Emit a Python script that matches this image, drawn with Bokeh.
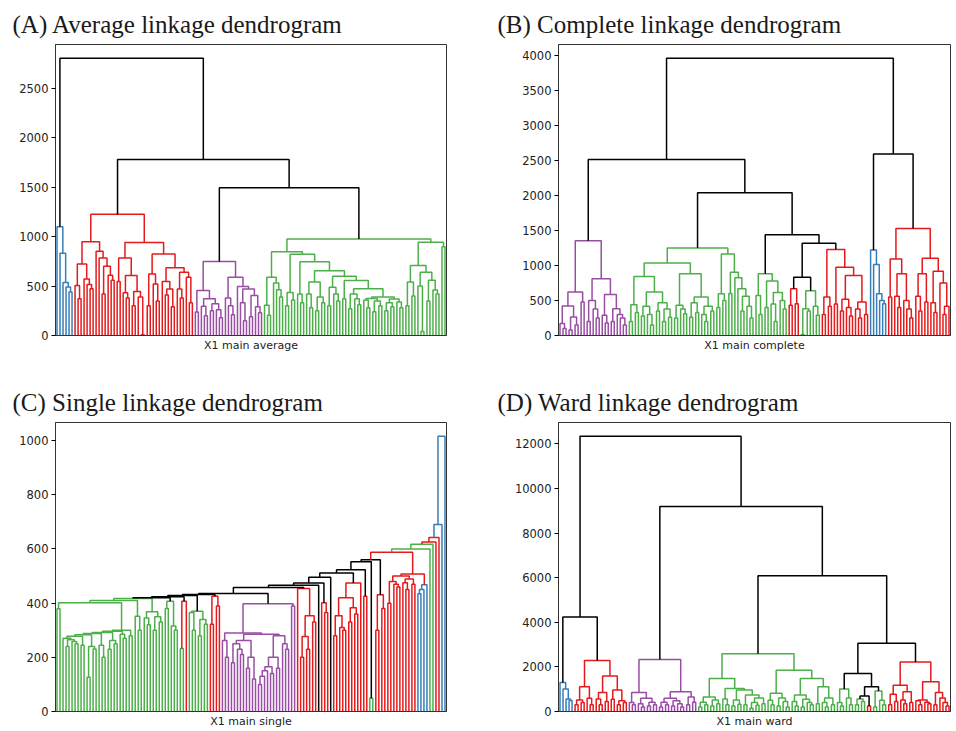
from bokeh.plotting import figure
from bokeh.layouts import column, row
from bokeh.models import ColumnDataSource, Range1d, FixedTicker
from bokeh.embed import file_html
from bokeh.resources import INLINE

# ---------------- colours of the links ----------------
COLORS = {"k": "#000000", "b": "#377eb8", "r": "#e41a1c", "g": "#4daf4a", "p": "#984ea3"}


def J(a, b, h, c=""):
    """join two subtrees at merge height h (optional colour code)"""
    return f"({a},{b}){h}{c}"


def chain(first, steps):
    acc = first
    for sub, h, c in steps:
        acc = J(acc, sub, h, c)
    return acc

# ---------------- (A) average linkage ----------------
A_blue = "(.,(.,(.,(.,(.,.)440)490)536)832)1100b"
A_red_LL = "((.,(.,.)372)505,(.,(.,(.,.)472)516)572)724"
A_red_LR = "(.,(.,((.,.)420,(.,(.,.)560)610)700)785)851"
A_red_RL = "((.,.)545,((.,(.,.)380)432,((.,.)300,(.,(.,.)8)390)445)606)785"
A_red_RR = "(((.,.)300,(.,(.,.)350)520)623,((.,((.,.)410,(.,.)290)470)545,((.,(.,.)380)470,(.,(.,.)330)590)640)684)824"
A_pur_L = "((.,.)238,((.,(.,.)200)295,((.,.)250,(.,(.,.)180)260)322)372)456"
A_pur_R1 = "(.,(.,(.,.)210)300)380"
A_pur_R2 = "(.,(.,.)150)330"
A_pur_R3 = "((.,.)190,(.,(.,.)230)290)405"
A_G1a = "((.,(.,.)204)305,(.,(.,(.,.)389)463)530)589"
A_G1b_left = "((.,.)300,(.,.)360)435"
A_X = ["(.,(.,.)330)420",
       "((.,(.,.)280)420,((.,.)250,(.,.)330)390)540",
       "((.,.)300,(.,(.,.)350)420)489",
       "(.,.)372",
       "((.,.)270,(.,(.,.)310)372)420",
       "((.,(.,.)280)360,((.,.)240,(.,.)300)350)375",
       "(((.,.)250,(.,.)290)330,(.,(.,.)280)340)370"]
A_chain_h = [747, 656, 600, 556, 472, 389]
A_G2a = "(((.,.)300,(.,.)400)540,((.,(.,.)40)500,((.,.)350,(.,(.,.)420)460)560)640)707"
A_G2b = "(.,.)898"

# ---------------- (B) complete linkage ----------------
B_pur_L = "(((.,(.,.)100)171,((.,.)80,(.,.)150)265)422,(.,.)479)621"
B_pur_R = ["((.,.)200,(.,(.,.)250)380)502", "(.,(.,.)180)289", "((.,.)200,(.,(.,(.,.)150)250)300)384"]
B_G1La = ["((.,.)200,(.,.)330)441", "((.,.)280,(.,(.,.)150)300)420", "((.,.)350,((.,.)200,(.,.)260)380)470"]
B_G1Lb = ["((.,.)250,(.,(.,.)310)380)431", "((.,.)260,(.,.)330)470", "((.,(.,.)200)300,(.,.)350)420"]
B_G1Ra = "((.,.)400,(.,.)500)597"
B_G1Rb = "((.,.)600,(.,(.,((.,.)350,(.,(.,.)250)420)560)668)825)905"
B_green2 = "((.,(.,.)300)573,((.,.)400,((.,(.,.)200)450,(.,(.,.)380)500)615)780)882g"
B_red1 = "((.,.)431,(.,.)455)668r"
B_green3 = "(((.,.)15,(.,.)350)384,(.,(.,.)290)420)640g"
B_red2 = ["((.,.)300,(.,.)420)550", "(.,.)450", "((.,.)350,(.,(.,.)280)400)520", "((.,(.,.)250)380,(.,.)300)480"]
B_blue = "(.,(.,(.,(.,(.,.)455)502)597)1014)1223b"
B_red3L = "((.,.)550,((.,(.,.)400)560,(.,(.,(.,.)250)380)500)882)1095"
B_red3R = "(((.,(.,.)350)560,(.,.)480)882,((.,(.,.)330)470,(.,((.,.)300,.)420)749)920)1104"

# ---------------- (C) single linkage ----------------
C_Q1_first = "."
C_Q1_steps = [("((.,.)240,(.,(.,.)250)258)265", 270, ""), ("(.,.)245", 278, ""),
              ("((.,.)126,(.,.)231)240", 283, ""), ("(.,(.,.)200)245", 288, ""),
              ("((.,.)230,(.,.)250)262", 292, ""), ("(.,(.,.)270)285", 296, ""),
              ("(.,.)280", 300, "")]
C_PA1 = "(.,(.,.)200)262"
C_PAa = ["((.,.)180,(.,(.,.)210)230)250", "((.,.)160,(.,.)120)200"]
C_PA_chain_first = "(.,.)100"
C_PA_chain = [(".", 130, ""), (".", 150, ""), ("(.,.)140", 165, ""), ("(.,.)160", 200, ""),
              ("(.,(.,.)230)250", 280, "")]
C_Q17_red = "(((.,.)400,(.,(.,.)460)470)480,((.,(.,.)450)475,(.,.)470)489)500r"
C_Q17_blue = "(((.,.)435,.)450,.)468b"
C_first = "(.,.)379g"
C_right = [("(.,(.,.)300)352", 410, "g"),
           ("((.,(.,.)320)345,((.,.)300,(.,.)330)350)368", 417, "g"),
           ("((.,.)380,(.,(.,.)300)316)407g", 420, "k"),
           ("((.,.)233g,.)407r", 424, "k"),
           ("((.,(.,.)300)365,((.,.)280,(.,.)322)340)370g", 428, "k"),
           ("((.,.)322,(.,.)389)425r", 432, "k")]
C_after_purple = [("(.,(((.,.)200,(.,.)230)277,(.,.)330)353)454r", 458, "k"),
                  (".", 466, "k"),
                  ("(.,(.,.)365)401r", 474, "k"),
                  (".", 496, "k"),
                  ("((((.,.)280,(.,(.,.)300)310)353,((.,.)330,(.,.)360)383)420,.)474r", 511, "k"),
                  ("(.,.)425r", 523, "k"),
                  ("(.,.)49g", 553, "k"),
                  ("((.,.)300,(.,.)380)431r", 560, "k")]
C_tail = [(".", 600, "g"), (".", 617, "g"), (".", 626, "r"), (".", 642, "r"), (".", 690, "b"), (".", 1016, "b")]

# ---------------- (D) ward linkage ----------------
D_blue = "(.,(.,(.,(.,.)488)562)1005)1300b"
D_red = ["((.,.)300,(.,.)400)517", "(.,(.,.)300)591", "((.,(.,.)300)560,(.,.)450)857", "((.,.)550,((.,.)300,(.,.)400)480)960"]
D_pur = ["(.,(.,.)300)400", "((.,(.,.)200)350,((.,.)250,(.,.)300)420)591",
         "(((.,.)200,(.,.)300)420,((.,.)250,(.,(.,.)200)350)480)591", "((.,.)300,(.,.)420)650"]
D_GLa = "(((.,.)200,(.,.)300)420,((.,.)250,(.,.)350)517)650"
D_GLb1 = "(.,(.,.)300)560"
D_GLb2 = "(((.,.)250,(.,.)320)520,((.,.)300,(((.,.)150,(.,.)280)400,(.,.)350)600)739)960"
D_GRa = "((.,(.,.)300)500,((.,.)250,(.,(.,.)200)450)600)813"
D_GRb1 = "((.,(.,.)250)450,((.,.)200,(.,(.,.)300)400)550)739"
D_GRb2 = "((.,.)350,((.,(.,.)200)400,(.,.)300)600)1108"
D_greenA = "((.,(.,.)250)400,(.,(.,.)300)600)1005g"
D_greenC = "((.,.)300,(.,.)450)560g"
D_redS = "(.,.)250r"
D_greenB = "((.,.)200,(.,(.,.)300)500)916g"
D_redR = ["(((.,.)300,(.,.)450)768,((.,(.,.)350)520,(.,.)400)887)1182",
          "((.,(.,.)300)480,(.,(.,.)350)420)517", "((.,.)300,(.,(.,(.,.)250)400)600)857"]

# ---------------- axis ticks, titles ----------------
TICKS_A = [0, 500, 1000, 1500, 2000, 2500]
TICKS_B = [0, 500, 1000, 1500, 2000, 2500, 3000, 3500, 4000]
TICKS_C = [0, 200, 400, 600, 800, 1000]
TICKS_D = [0, 2000, 4000, 6000, 8000, 10000, 12000]
TITLES = ["(A) Average linkage dendrogram", "(B) Complete linkage dendrogram",
          "(C) Single linkage dendrogram", "(D) Ward linkage dendrogram"]
XLABELS = ["X1 main average", "X1 main complete", "X1 main single", "X1 main ward"]

# ---------------- assemble trees ----------------
A_red = J(J(A_red_LL, A_red_LR, 948), J(A_red_RL, A_red_RR, 940), 1227, "r")
A_purple = J(A_pur_L, J(A_pur_R1, J(".", J(A_pur_R2, A_pur_R3, 470), 496), 590), 748, "p")
c = J(A_X[5], A_X[6], A_chain_h[5])
for xi, hh in zip(A_X[4::-1][:4], A_chain_h[4:0:-1]):
    c = J(xi, c, hh)
c = J(A_X[0], c, A_chain_h[0])
A_green = J(J(A_G1a, J(A_G1b_left, c, 822), 848), J(A_G2a, A_G2b, 942), 975, "g")
A_tree = J(A_blue, J(A_red, J(A_purple, A_green, 1495), 1780), 2803, "k")

B_purple = J(B_pur_L, J(B_pur_R[0], J(B_pur_R[1], B_pur_R[2], 588), 810), 1356, "p")
B_G1L = J(J(B_G1La[0], J(B_G1La[1], B_G1La[2], 621), 844), J(B_G1Lb[0], J(B_G1Lb[1], B_G1Lb[2], 550), 882), 1038)
B_green1 = J(B_G1L, J(B_G1Ra, B_G1Rb, 1166), 1251, "g")
B_red2t = J(B_red2[0], J(B_red2[1], J(B_red2[2], B_red2[3], 858), 976), 1228, "r")
B_red3 = J(B_red3L, B_red3R, 1531, "r")
B_tree = J(J(B_purple, J(B_green1, J(B_green2, J(J(B_red1, B_green3, 834), B_red2t, 1318), 1441), 2043), 2517),
           J(B_blue, B_red3, 2597), 3963, "k")

C_Q1 = chain(C_Q1_first, C_Q1_steps)
C_PA2 = J(J(C_PAa[0], C_PAa[1], 262), chain(C_PA_chain_first, C_PA_chain), 285)
C_Q7 = J(J(C_PA1, C_PA2, 290), "(.,.)389", 398, "p")
C_Q17 = J(C_Q17_red, C_Q17_blue, 508, "r")
C_steps = [(C_Q1, 401, "g")] + C_right + [(C_Q7, 436, "k")] + C_after_purple + [(C_Q17, 588, "r")] + C_tail
C_tree = chain(C_first, C_steps)

D_redL = J(J(D_red[0], D_red[1], 1108), J(D_red[2], D_red[3], 1596), 2291, "r")
D_purple = J(J(D_pur[0], D_pur[1], 857), J(D_pur[2], D_pur[3], 887), 2335, "p")
D_green = J(J(D_GLa, J(D_GLb1, D_GLb2, 1035), 1478), J(D_GRa, J(D_GRb1, D_GRb2, 1478), 1848), 2587, "g")
D_black = J(D_greenA, J(J(D_greenC, D_redS, 695), D_greenB, 1108), 1700)
D_redRt = J(D_redR[0], J(D_redR[1], D_redR[2], 1330), 2217, "r")
D_tree = J(J(D_blue, D_redL, 4242), J(D_purple, J(D_green, J(D_black, D_redRt, 3059), 6089), 9193), 12340, "k")


def parse(s):
    s = "".join(s.split())
    pos = 0

    def node():
        nonlocal pos
        ch = s[pos]
        if ch == ".":
            pos += 1
            return None
        if ch != "(":
            raise ValueError(f"bad {ch!r} at {pos}: {s[max(0, pos-30):pos+30]}")
        pos += 1
        left = node()
        if s[pos] != ",":
            raise ValueError(f"expected , at {pos}: {s[max(0, pos-30):pos+30]}")
        pos += 1
        right = node()
        if s[pos] != ")":
            raise ValueError(f"expected ) at {pos}: {s[max(0, pos-30):pos+30]}")
        pos += 1
        st = pos
        while pos < len(s) and s[pos].isdigit():
            pos += 1
        h = float(s[st:pos])
        col = ""
        if pos < len(s) and s[pos] in "kbrgp":
            col = s[pos]
            pos += 1
        return (left, right, h, col)

    t = node()
    if pos != len(s):
        raise ValueError("trailing text")
    return t


def layout(tree):
    xs, ys, cs = [], [], []
    count = [0]

    def walk(nd, col):
        if nd is None:
            x = count[0] + 0.5
            count[0] += 1
            return x, 0.0
        l, r, h, cc = nd
        col = cc or col
        xl, hl = walk(l, col)
        xr, hr = walk(r, col)
        xs.append([xl, xl, xr, xr])
        ys.append([hl, h, h, hr])
        cs.append(COLORS[col])
        return (xl + xr) / 2, h

    _, top = walk(tree, "k")
    return xs, ys, cs, count[0], top


def make(tree, title, xlabel, ticks, width, height, bl, br, bt, bb, toff):
    xs, ys, cs, n, top = layout(parse(tree))
    p = figure(width=width, height=height, x_range=Range1d(0, n), y_range=Range1d(0, top * 1.05),
               output_backend="svg", toolbar_location=None,
               min_border_left=bl, min_border_right=br, min_border_top=bt, min_border_bottom=bb)
    src = ColumnDataSource(dict(xs=xs, ys=ys, color=cs))
    p.multi_line(xs="xs", ys="ys", line_color="color", line_width=1.5, source=src)
    p.grid.visible = False
    p.outline_line_color = "#333333"
    p.title.text = title
    p.title.text_font = "Liberation Serif"
    p.title.text_font_size = "25px"
    p.title.text_font_style = "normal"
    p.title.text_color = "#1a1a1a"
    p.title.align = "left"
    p.title.offset = toff
    p.title.standoff = 14
    p.xaxis.ticker = FixedTicker(ticks=[])
    p.xaxis.major_tick_out = 0
    p.xaxis.major_tick_in = 0
    p.xaxis.major_label_standoff = 0
    p.xaxis.minor_tick_line_color = None
    p.xaxis.axis_label = xlabel
    p.xaxis.axis_label_standoff = 3
    p.xaxis.axis_label_text_font = "DejaVu Sans"
    p.xaxis.axis_label_text_font_size = "11px"
    p.xaxis.axis_label_text_font_style = "normal"
    p.xaxis.axis_label_text_color = "#222222"
    p.xaxis.axis_line_color = "#333333"
    p.yaxis.ticker = FixedTicker(ticks=ticks)
    p.yaxis.minor_tick_line_color = None
    p.yaxis.major_tick_out = 4
    p.yaxis.major_tick_in = 0
    p.yaxis.major_label_standoff = 3
    p.yaxis.major_label_text_font = "DejaVu Sans"
    p.yaxis.major_label_text_font_size = "11.5px"
    p.yaxis.major_label_text_color = "#222222"
    p.yaxis.axis_line_color = "#333333"
    return p


pA = make(A_tree, TITLES[0], XLABELS[0], TICKS_A, 494, 378, 55, 48, 44, 43, -43)
pB = make(B_tree, TITLES[1], XLABELS[1], TICKS_B, 458, 378, 64, 2, 44, 43, -61)
pC = make(C_tree, TITLES[2], XLABELS[2], TICKS_C, 494, 352, 55, 48, 44, 17, -43)
pD = make(D_tree, TITLES[3], XLABELS[3], TICKS_D, 458, 352, 64, 2, 44, 17, -61)

layout_all = column(row(pA, pB), row(pC, pD))
open("out.html", "w").write(file_html(layout_all, INLINE))
